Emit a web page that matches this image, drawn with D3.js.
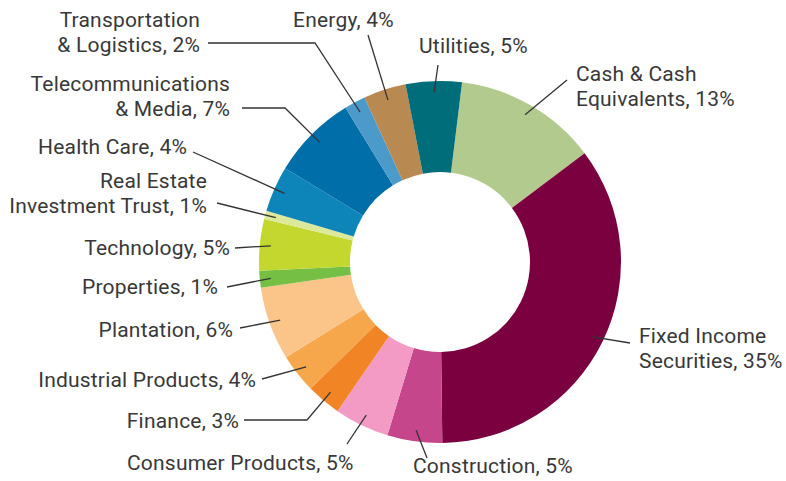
<!DOCTYPE html>
<html>
<head>
<meta charset="utf-8">
<script src="https://cdn.jsdelivr.net/npm/d3@7"></script>
<style>
  body { margin: 0; background: #fff; }
  .label { font-family: Roboto, "Liberation Sans", sans-serif; font-size: 21px; letter-spacing: 0.2px; fill: #383838; }
  .leader { fill: none; stroke: #333; stroke-width: 1.3; }
</style>
</head>
<body>
<svg width="786" height="481"></svg>
<script>
WIDTH = 786;
HEIGHT = 481;
CX = 440;
CY = 262;
OUTER_R = 181;
INNER_R = 90;
LEADER_R = 170;

// slices, clockwise from just right of 12 o'clock
var names = ['Cash & Cash Equivalents', 'Fixed Income Securities', 'Construction', 'Consumer Products',
  'Finance', 'Industrial Products', 'Plantation', 'Properties', 'Technology', 'Real Estate Investment Trust',
  'Health Care', 'Telecommunications & Media', 'Transportation & Logistics', 'Energy', 'Utilities'];
var values = [12.8, 35.1, 4.9, 4.9, 3.1, 3.5, 6.55, 1.5, 4.6, 0.75, 4.1, 7.6, 1.9, 3.8, 5.0];
var labels = [['Cash & Cash', 'Equivalents, 13%'], ['Fixed Income', 'Securities, 35%'], ['Construction, 5%'],
  ['Consumer Products, 5%'], ['Finance, 3%'], ['Industrial Products, 4%'], ['Plantation, 6%'],
  ['Properties, 1%'], ['Technology, 5%'], ['Real Estate', 'Investment Trust, 1%'], ['Health Care, 4%'],
  ['Telecommunications', '& Media, 7%'], ['Transportation', '& Logistics, 2%'], ['Energy, 4%'], ['Utilities, 5%']];
var colors = ['#b3ca8f', '#7a0040', '#c5468a', '#f39bc4', '#f18425', '#f7a74b', '#fbc589', '#74bf44',
  '#c3d72f', '#dce89a', '#0d85b9', '#006ea9', '#4b9ac9', '#b88951', '#006d7b'];

// label layout: leader bend / end points, text anchor x, first baseline y
var labelLayout = [
  { pts: [[567, 80]], tx: 576, ty: 81, anchor: 'start' },
  { pts: [[630, 343]], tx: 639, ty: 343, anchor: 'start' },
  { pts: [[427, 458]], tx: 413, ty: 473, anchor: 'start' },
  { pts: [[347, 444]], tx: 127, ty: 470, anchor: 'start' },
  { pts: [[307, 420], [244, 420]], tx: 239, ty: 428, anchor: 'end' },
  { pts: [[262, 379]], tx: 256, ty: 387, anchor: 'end' },
  { pts: [[240, 328]], tx: 233, ty: 337, anchor: 'end' },
  { pts: [[227, 287]], tx: 218, ty: 294, anchor: 'end' },
  { pts: [[235, 248]], tx: 230, ty: 255, anchor: 'end' },
  { pts: [[217, 203]], tx: 207, ty: 188, anchor: 'end' },
  { pts: [[193, 152]], tx: 187, ty: 154, anchor: 'end' },
  { pts: [[285, 108], [242, 108]], tx: 230, ty: 91, anchor: 'end' },
  { pts: [[315, 43], [208, 43]], tx: 200, ty: 27, anchor: 'end' },
  { pts: [[368, 35]], tx: 293, ty: 27, anchor: 'start' },
  { pts: [[438, 65]], tx: 419, ty: 53, anchor: 'start' }
];
LINE_H = 25;

function drawChart () {
  var svg = d3.select("svg");
  var g = svg.append("g").attr("transform", "translate(" + CX + "," + CY + ")");

  var start = 7 * Math.PI / 180;
  var pie = d3.pie().sort(null).value(function (d) { return d; })
    .startAngle(start).endAngle(start + 2 * Math.PI);
  var arcs = pie(values);

  var arc = d3.arc().innerRadius(INNER_R).outerRadius(OUTER_R);
  var leaderArc = d3.arc().innerRadius(LEADER_R).outerRadius(LEADER_R);

  g.selectAll("path.slice")
    .data(arcs)
    .enter().append("path")
    .attr("class", "slice")
    .attr("d", arc)
    .attr("fill", function (d, i) { return colors[i]; });

  // leader lines
  var line = d3.line();
  svg.selectAll("path.leader")
    .data(arcs)
    .enter().append("path")
    .attr("class", "leader")
    .attr("d", function (d, i) {
      var c = leaderArc.centroid(d);
      var p = [[c[0] + CX, c[1] + CY]].concat(labelLayout[i].pts);
      return line(p);
    });

  // labels
  labels.forEach(function (lines, i) {
    var lay = labelLayout[i];
    var t = svg.append("text")
      .attr("class", "label")
      .attr("text-anchor", lay.anchor);
    lines.forEach(function (s, j) {
      t.append("tspan")
        .attr("x", lay.tx)
        .attr("y", lay.ty + j * LINE_H)
        .text(s);
    });
  });
}

drawChart();
</script>
</body>
</html>
